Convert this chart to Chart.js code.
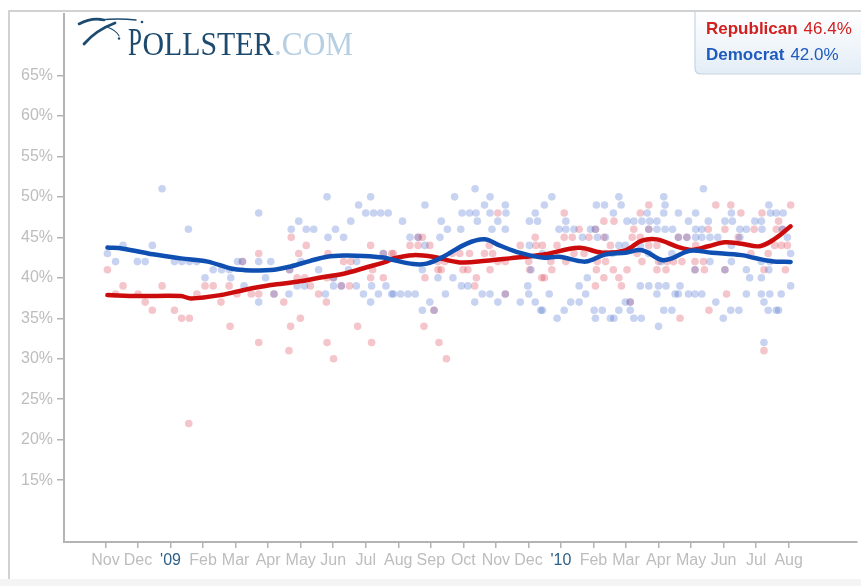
<!DOCTYPE html>
<html><head><meta charset="utf-8">
<script src="https://cdn.jsdelivr.net/npm/chart.js@4/dist/chart.umd.min.js"></script>
<style>html,body{margin:0;padding:0;background:#fff;}#wrap{width:861px;height:586px;position:relative;}</style>
</head><body><div id="wrap"><canvas id="c" width="861" height="586"></canvas></div>
<script>
// ---- data (x = months since Nov 1 2008) ----
const monthLabels = ['Nov','Dec',"'09",'Feb','Mar','Apr','May','Jun','Jul','Aug','Sep','Oct','Nov','Dec',"'10",'Feb','Mar','Apr','May','Jun','Jul','Aug'];
const yTickValues = [15,20,25,30,35,40,45,50,55,60,65];
const seriesNames = ['Republican','Democrat'];
const latestValues = ['46.4%','42.0%'];

const repTrend = [[0.06,37.87],[1.00,37.75],[2.32,37.75],[2.63,37.45],[3.55,37.87],[4.26,38.5],[5.08,39.1],[5.89,39.5],[6.71,40.1],[7.32,40.5],[8.03,41.3],[8.64,42.0],[8.85,42.4],[9.46,42.8],[10.07,42.6],[10.89,41.9],[11.70,42.1],[12.42,42.4],[13.43,42.85],[14.56,43.7],[15.27,43.1],[15.98,43.4],[16.49,44.6],[16.95,44.75],[17.61,43.8],[18.02,43.45],[18.53,43.9],[19.04,44.4],[19.55,44.2],[20.11,43.9],[20.57,44.8],[21.06,46.36]];

const demTrend = [[0.06,43.73],[0.54,43.6],[1.46,42.9],[2.32,42.4],[3.14,42.0],[3.85,41.15],[4.26,40.95],[5.08,40.95],[5.69,41.4],[6.30,42.1],[6.81,42.6],[7.32,42.75],[7.93,42.7],[8.54,42.5],[8.85,42.2],[9.46,41.7],[9.87,41.75],[10.38,42.6],[11.09,44.2],[11.65,44.75],[12.11,44.0],[12.72,43.1],[13.43,42.5],[13.94,42.6],[14.76,42.0],[15.37,42.9],[15.98,43.1],[16.49,43.4],[17.10,42.2],[17.41,42.4],[17.96,43.35],[18.64,43.1],[19.55,42.8],[19.96,42.45],[20.47,42.05],[21.06,41.95]];

const repPolls = [[0.06,41],[0.54,39],[0.31,38],[1.00,38],[1.22,37],[1.44,36],[1.74,39],[2.12,36],[2.34,35],[2.58,35],[2.81,38],[3.06,39],[3.31,39],[3.55,37],[3.80,39],[3.83,34],[4.04,38],[4.21,42],[2.56,22],
[5.71,45],[6.17,44],[4.71,43],[5.94,43],[6.84,43],[8.15,44],[7.32,42],[7.54,42],[5.66,41],[5.89,40],[6.12,40],[6.81,40],[7.01,40],[8.15,40],[8.54,40],[4.48,38],[4.71,38],[5.18,38],[6.30,39],[6.55,38],[7.25,39],[7.50,39],[5.48,37],[6.79,37],[8.21,41],[5.99,35],[5.69,34],[7.75,34],[4.71,32],[6.81,32],[8.18,32],[5.64,31],[7.01,30],[8.80,43],[8.54,43],
[12.06,48],[9.61,45],[9.74,45],[13.21,45],[9.36,44],[9.61,44],[9.97,44],[11.80,44],[12.75,44],[13.23,44],[8.85,43],[10.66,43],[10.89,43],[11.19,43],[11.65,43],[11.90,43],[10.22,42],[10.43,42],[12.06,42],[12.29,42],[13.01,42],[10.22,41],[10.32,41],[10.99,41],[11.14,41],[11.82,41],[13.04,41],[9.82,40],[11.40,40],[13.41,40],[11.35,39],[9.79,34],[10.25,32],[10.48,30],[12.29,38],[10.10,36],
[14.10,48],[16.70,49],[15.32,47],[15.63,47],[16.44,48],[14.56,46],[16.24,46],[16.70,46],[14.10,45],[14.35,45],[14.86,45],[15.32,45],[16.19,45],[16.44,45],[17.61,45],[17.87,45],[13.43,44],[13.88,44],[15.52,44],[16.70,44],[16.95,44],[14.40,43],[14.71,43],[16.34,43],[13.69,42],[14.15,42],[15.12,42],[15.37,42],[16.49,42],[17.00,42],[17.26,42],[17.46,42],[17.72,42],[13.72,41],[15.09,41],[15.61,41],[16.03,41],[16.95,41],[17.23,41],[13.49,40],[15.32,40],[15.78,40],[15.06,39],[15.86,39],[17.66,35],[16.13,37],[15.06,46],
[18.76,49],[19.22,49],[21.06,49],[19.53,48],[20.18,48],[20.69,47],[18.53,46],[19.04,46],[19.94,46],[20.62,46],[20.83,46],[19.45,45],[20.57,44],[20.77,44],[20.96,44],[18.14,44],[20.37,43],[19.84,43],[18.12,42],[18.38,42],[18.12,41],[18.41,41],[19.04,41],[20.24,41],[20.90,41],[19.09,38],[18.55,36],[20.24,31]];

const demPolls = [[1.74,51],[2.55,46],[0.06,43],[0.54,44],[1.44,44],[0.31,42],[0.98,42],[1.22,42],[2.12,42],[2.35,42],[2.58,42],[2.80,42],[3.06,40],[3.31,41],[3.57,41],[3.81,41],[3.85,40],[4.06,42],[4.21,42],[4.26,39],
[6.81,50],[4.71,48],[8.15,50],[7.78,49],[8.00,48],[8.24,48],[8.46,48],[8.69,48],[5.94,47],[7.54,47],[5.71,46],[6.17,46],[6.40,46],[7.07,46],[6.84,45],[7.32,45],[4.71,42],[5.08,42],[6.01,42],[6.55,41],[4.92,40],[4.71,37],[5.64,38],[5.89,39],[6.12,39],[6.76,38],[7.01,39],[7.47,41],[7.72,42],[7.71,39],[7.93,38],[8.18,39],[8.15,37],[8.39,38],[8.62,39],[8.80,38],[8.54,43],[5.66,41],[5.18,38],[7.01,40],[7.25,39],
[11.36,51],[10.73,50],[11.82,50],[9.82,49],[11.65,49],[12.29,49],[10.96,48],[11.19,48],[11.39,48],[11.82,48],[12.31,48],[13.21,48],[9.13,47],[10.32,47],[11.43,47],[12.06,47],[13.03,47],[13.28,47],[10.51,46],[10.92,46],[11.88,46],[12.29,46],[9.36,45],[10.28,45],[9.61,45],[9.82,44],[13.03,44],[9.74,41],[10.22,40],[10.68,40],[10.94,39],[11.14,39],[12.98,39],[8.85,38],[9.07,38],[9.30,38],[9.52,38],[10.45,38],[11.58,38],[11.82,38],[12.29,38],[13.01,38],[9.97,37],[11.35,37],[12.06,37],[12.75,37],[13.21,37],[9.74,36],[10.10,36],[13.38,36],[13.08,41],
[13.72,50],[15.78,50],[17.16,50],[13.49,49],[15.09,49],[15.34,49],[15.85,49],[17.20,49],[15.61,48],[16.65,48],[17.16,48],[17.61,48],[14.15,47],[16.03,47],[16.24,47],[16.49,47],[16.73,47],[16.95,47],[17.92,47],[13.94,46],[14.15,46],[14.40,46],[14.91,46],[15.06,46],[16.70,46],[16.95,46],[17.20,46],[17.43,46],[14.66,45],[15.12,45],[15.37,45],[15.78,44],[15.98,44],[16.44,44],[13.43,43],[15.37,43],[15.58,43],[16.70,43],[17.08,42],[17.41,43],[14.81,40],[14.56,39],[16.44,39],[16.70,39],[17.00,39],[17.23,39],[17.66,39],[13.64,38],[14.76,38],[16.95,38],[17.51,38],[17.61,38],[17.92,38],[14.30,37],[14.56,37],[15.98,37],[16.13,37],[13.43,36],[14.10,36],[15.02,36],[15.27,36],[15.78,36],[16.13,36],[17.16,36],[17.41,36],[13.88,35],[15.06,35],[15.52,35],[15.63,35],[16.24,35],[16.47,35],[17.00,34],[17.61,45],[17.87,45],
[18.38,51],[18.14,48],[19.24,48],[20.39,49],[20.44,48],[20.62,48],[20.83,48],[18.53,47],[19.04,47],[19.27,47],[19.96,47],[20.16,47],[18.14,46],[18.33,46],[19.50,46],[19.70,46],[20.18,46],[20.80,46],[18.14,45],[18.33,45],[18.58,45],[18.82,45],[19.50,45],[20.96,45],[19.24,44],[21.06,43],[18.58,42],[19.24,42],[20.16,42],[20.42,42],[19.70,41],[20.39,41],[19.80,40],[20.16,40],[21.06,39],[18.12,38],[18.33,38],[19.70,38],[20.16,38],[20.42,38],[20.77,38],[20.24,37],[18.76,37],[19.22,36],[19.47,36],[20.37,36],[20.62,36],[20.69,36],[18.99,35],[20.24,32],[18.12,41],[19.04,41]];

const toXY = arr => arr.map(([x,y]) => ({x, y}));

const RED_LINE = '#cc0c0c', BLUE_LINE = '#0f4fb2';
const AXIS = '#b4b4b4';

const decorPlugin = {
  id: 'decor',
  beforeDraw(chart) {
    const ctx = chart.ctx;
    ctx.save();
    ctx.fillStyle = '#fff';
    ctx.fillRect(0, 0, chart.width, chart.height);
    // bottom light band
    ctx.fillStyle = '#f4f4f4';
    ctx.fillRect(0, 579, chart.width, 7);
    // outer frame
    ctx.strokeStyle = '#c4c4c4';
    ctx.lineWidth = 1.5;
    ctx.beginPath();
    ctx.moveTo(9, 579); ctx.lineTo(9, 11); ctx.lineTo(chart.width, 11);
    ctx.stroke();
    ctx.restore();
  },
  afterDraw(chart) {
    const ctx = chart.ctx;
    ctx.save();
    // ---- logo swoosh ----
    ctx.strokeStyle = '#1d4b6f'; ctx.fillStyle = '#1d4b6f';
    ctx.lineCap = 'round';
    ctx.lineWidth = 2.6;
    ctx.beginPath(); ctx.moveTo(79, 24); ctx.quadraticCurveTo(92, 17, 104, 20); ctx.stroke();
    ctx.lineWidth = 1.4;
    ctx.beginPath(); ctx.moveTo(100, 20); ctx.quadraticCurveTo(118, 18, 136, 20); ctx.stroke();
    ctx.lineWidth = 2.8;
    ctx.beginPath(); ctx.moveTo(115, 23); ctx.quadraticCurveTo(96, 30, 84, 44); ctx.stroke();
    ctx.lineWidth = 1.1;
    ctx.beginPath(); ctx.moveTo(107, 27); ctx.quadraticCurveTo(116, 30, 119, 36); ctx.stroke();
    ctx.beginPath(); ctx.arc(142, 22, 1.3, 0, Math.PI*2); ctx.fill();
    ctx.beginPath(); ctx.arc(119, 38.5, 1.2, 0, Math.PI*2); ctx.fill();
    // ---- logo text ----
    const fitText = (txt, font, x, base, w, color) => {
      ctx.font = font; ctx.fillStyle = color; ctx.textBaseline = 'alphabetic'; ctx.textAlign = 'left';
      const mw = ctx.measureText(txt).width;
      ctx.save(); ctx.translate(x, base); ctx.scale(w / mw, 1); ctx.fillText(txt, 0, 0); ctx.restore();
    };
    fitText('P', '39px "Liberation Serif", serif', 128, 55, 14, '#1d4b6f');
    fitText('OLLSTER', '33px "Liberation Serif", serif', 142.5, 55, 131, '#1d4b6f');
    fitText('.COM', '33px "Liberation Serif", serif', 274, 55, 79, '#b7cfe2');

    // ---- legend box ----
    const bx = 695, by = 12, bw = 180, bh = 62, r = 6;
    const g = ctx.createLinearGradient(0, by, 0, by + bh);
    g.addColorStop(0, '#ffffff'); g.addColorStop(1, '#e3edf6');
    ctx.beginPath();
    ctx.moveTo(bx, by); ctx.lineTo(bx, by + bh - r);
    ctx.quadraticCurveTo(bx, by + bh, bx + r, by + bh);
    ctx.lineTo(bx + bw, by + bh); ctx.lineTo(bx + bw, by);
    ctx.closePath();
    ctx.fillStyle = g; ctx.fill();
    ctx.strokeStyle = '#c6d5e2'; ctx.lineWidth = 1.2;
    ctx.beginPath();
    ctx.moveTo(bx, by); ctx.lineTo(bx, by + bh - r);
    ctx.quadraticCurveTo(bx, by + bh, bx + r, by + bh);
    ctx.lineTo(bx + bw, by + bh);
    ctx.stroke();
    const legendColors = ['#d21f1f', '#1f5bbd'];
    const baselines = [34, 60];
    ctx.textBaseline = 'alphabetic'; ctx.textAlign = 'left';
    seriesNames.forEach((name, i) => {
      ctx.fillStyle = legendColors[i];
      ctx.font = 'bold 17px "Liberation Sans", Arial, sans-serif';
      ctx.fillText(name, 706, baselines[i]);
      const w = ctx.measureText(name).width;
      ctx.font = '17px "Liberation Sans", Arial, sans-serif';
      ctx.fillText(latestValues[i], 706 + w + 6, baselines[i]);
    });
    ctx.restore();
  }
};

const chart = new Chart(document.getElementById('c'), {
  type: 'scatter',
  data: {
    datasets: [
      { label: 'Democrat trend', data: toXY(demTrend), showLine: true, borderColor: BLUE_LINE, borderWidth: 4.5, pointRadius: 0, tension: 0.35, order: 0, borderCapStyle: 'round', borderJoinStyle: 'round' },
      { label: 'Republican trend', data: toXY(repTrend), showLine: true, borderColor: RED_LINE, borderWidth: 4.5, pointRadius: 0, tension: 0.35, order: 1, borderCapStyle: 'round', borderJoinStyle: 'round' },
      { label: 'Democrat polls', data: toXY(demPolls), showLine: false, pointRadius: 3.8, pointBorderWidth: 0, backgroundColor: 'rgba(70,110,205,0.30)', borderColor: 'rgba(0,0,0,0)', order: 2 },
      { label: 'Republican polls', data: toXY(repPolls), showLine: false, pointRadius: 3.8, pointBorderWidth: 0, backgroundColor: 'rgba(215,45,65,0.28)', borderColor: 'rgba(0,0,0,0)', order: 3 }
    ]
  },
  options: {
    responsive: false,
    animation: false,
    events: [],
    layout: { padding: { top: 11, left: 0, right: 0, bottom: 0 } },
    plugins: { legend: { display: false }, tooltip: { enabled: false }, title: { display: false } },
    scales: {
      x: {
        type: 'linear', min: -1.275, max: 23.1,
        afterBuildTicks: s => { s.ticks = monthLabels.map((_, i) => ({ value: i })); },
        afterFit: s => { s.height = 44; },
        border: { color: AXIS, width: 2 },
        grid: { drawOnChartArea: false, drawTicks: true, tickLength: 6, color: AXIS, lineWidth: 1.5 },
        ticks: {
          autoSkip: false, maxRotation: 0, minRotation: 0, padding: 3,
          font: { family: '"Liberation Sans", Arial, sans-serif', size: 16 },
          color: c => (c.tick && String(monthLabels[c.tick.value]).startsWith("'")) ? '#2e6088' : '#bdbdbd',
          callback: v => monthLabels[v]
        }
      },
      y: {
        type: 'linear', min: 7.36, max: 72.64,
        afterBuildTicks: s => { s.ticks = yTickValues.map(v => ({ value: v })); },
        afterFit: s => { s.width = 64; },
        border: { color: AXIS, width: 2 },
        grid: { drawOnChartArea: false, drawTicks: true, tickLength: 7, color: AXIS, lineWidth: 1.5 },
        ticks: {
          padding: 4,
          font: { family: '"Liberation Sans", Arial, sans-serif', size: 16 },
          color: '#bdbdbd',
          callback: v => v + '%'
        }
      }
    }
  },
  plugins: [decorPlugin]
});
</script>
</body></html>
